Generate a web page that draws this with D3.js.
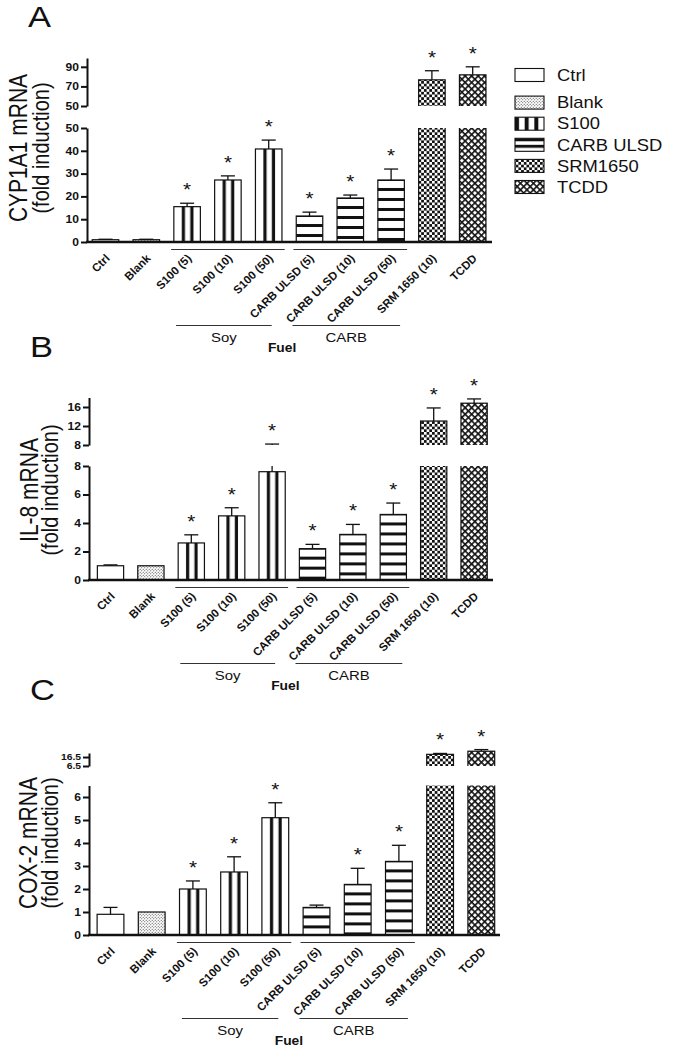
<!DOCTYPE html>
<html><head><meta charset="utf-8">
<script src="https://cdn.jsdelivr.net/npm/d3@7"></script>
<style>body{margin:0;background:#fff} svg{display:block} text{font-family:"Liberation Sans",Arial,Helvetica,sans-serif}</style>
</head><body><svg id="c" width="677" height="1050"></svg>
<script>
// ---------------- data ----------------
const categories = ["Ctrl","Blank","S100 (5)","S100 (10)","S100 (50)","CARB ULSD (5)","CARB ULSD (10)","CARB ULSD (50)","SRM 1650 (10)","TCDD"];
const fillKinds  = ["ctrl","blank","s100","s100","s100","carb","carb","carb","srm","tcdd"];

const cyp1a1Values = [1.0, 1.0, 15.5, 27.2, 40.8, 11.4, 19.3, 27.2, 76.7, 81.8];
const cyp1a1Errors = [0.2, 0.2, 1.5, 1.8, 3.9, 1.7, 1.3, 4.8, 9.3, 8.2];
const cyp1a1Stars  = [0, 0, 1, 1, 1, 1, 1, 1, 1, 1];
const cyp1a1LowerTicks = [0, 10, 20, 30, 40, 50];
const cyp1a1UpperTicks = [50, 70, 90];

const il8Values = [1.0, 1.0, 2.6, 4.5, 7.6, 2.2, 3.2, 4.6, 13.05, 16.8];
const il8Errors = [0.06, 0.0, 0.57, 0.57, 0.6, 0.3, 0.7, 0.8, 2.75, 0.9];
const il8Stars  = [0, 0, 1, 1, 1, 1, 1, 1, 1, 1];
const il8LowerTicks = [0, 2, 4, 6, 8];
const il8UpperTicks = [8, 12, 16];

const cox2Values = [0.9, 1.0, 2.0, 2.74, 5.1, 1.2, 2.2, 3.2, 19.5, 23.0];
const cox2Errors = [0.3, 0.0, 0.35, 0.66, 0.65, 0.1, 0.7, 0.7, 1.0, 1.8];
const cox2Stars  = [0, 0, 1, 1, 1, 0, 1, 1, 1, 1];
const cox2LowerTicks = [0, 1, 2, 3, 4, 5, 6];
const cox2UpperTicks = [6.5, 16.5];

const fuelNames = ["Soy", "CARB"];
const fuelFirst = ["S100 (5)", "CARB ULSD (5)"];
const fuelLast  = ["S100 (50)", "CARB ULSD (50)"];

const legendItems = ["Ctrl","Blank","S100","CARB ULSD","SRM1650","TCDD"];
const legendKinds = ["ctrl","blank","s100","carb","srm","tcdd"];

// ---------------- setup ----------------
const SX = 1.15; // horizontal stretch of the original figure's text
const svg = d3.select("#c");
const defs = svg.append("defs");

(function(){
  let p = defs.append("pattern").attr("id","pat-blank").attr("patternUnits","userSpaceOnUse").attr("width",3).attr("height",3);
  p.append("rect").attr("width",3).attr("height",3).attr("fill","#fff");
  p.append("circle").attr("cx",0.75).attr("cy",0.75).attr("r",0.6).attr("fill","#444");
  p.append("circle").attr("cx",2.25).attr("cy",2.25).attr("r",0.6).attr("fill","#444");
  p = defs.append("pattern").attr("id","pat-srm").attr("patternUnits","userSpaceOnUse").attr("width",5.4).attr("height",5.4);
  p.append("rect").attr("width",5.4).attr("height",5.4).attr("fill","#fff");
  p.append("rect").attr("width",2.7).attr("height",2.7).attr("fill","#111");
  p.append("rect").attr("x",2.7).attr("y",2.7).attr("width",2.7).attr("height",2.7).attr("fill","#111");
  p = defs.append("pattern").attr("id","pat-tcdd").attr("patternUnits","userSpaceOnUse").attr("width",4.6).attr("height",4.6).attr("patternTransform","rotate(45)");
  p.append("rect").attr("width",4.6).attr("height",4.6).attr("fill","#fff");
  p.append("rect").attr("width",4.6).attr("height",1.6).attr("fill","#111");
  p.append("rect").attr("width",1.6).attr("height",4.6).attr("fill","#111");
})();

let patCount = 0;
function s100Pattern(x0, w){
  const id = "pat-s100-" + (patCount++);
  const p = defs.append("pattern").attr("id",id).attr("patternUnits","userSpaceOnUse").attr("x",x0).attr("y",0).attr("width",w).attr("height",10);
  p.append("rect").attr("width",w).attr("height",10).attr("fill","#fff");
  [0.30, 0.62].forEach(f => p.append("rect").attr("x",w*f).attr("width",w*0.12).attr("height",10).attr("fill","#111"));
  return "url(#"+id+")";
}
function carbPattern(top, period, offset, thick){
  const id = "pat-carb-" + (patCount++);
  const p = defs.append("pattern").attr("id",id).attr("patternUnits","userSpaceOnUse").attr("x",0).attr("y",top+offset).attr("width",10).attr("height",period);
  p.append("rect").attr("width",10).attr("height",period).attr("fill","#fff");
  p.append("rect").attr("width",10).attr("height",thick).attr("fill","#111");
  return "url(#"+id+")";
}
function fillFor(kind, x0, top, w){
  if (kind === "ctrl") return "#fff";
  if (kind === "blank") return "url(#pat-blank)";
  if (kind === "s100") return s100Pattern(x0, w);
  if (kind === "carb") return carbPattern(top, 10, 8, 3);
  if (kind === "srm") return "url(#pat-srm)";
  return "url(#pat-tcdd)";
}

function T(parent, x, y, str, o){
  o = o || {};
  return parent.append("text")
    .attr("transform", `translate(${x},${y}) scale(${o.sx||SX},1)` + (o.rot ? ` rotate(${o.rot})` : ""))
    .attr("text-anchor", o.anchor || "start")
    .attr("font-size", o.size || 12)
    .attr("font-weight", o.weight || "normal")
    .attr("fill", "#111")
    .text(str);
}

// ---------------- panels ----------------
function drawPanel(p){
  const g = svg.append("g");
  const step = p.step;
  const r0 = p.c0 - step/2;
  const x = d3.scaleBand().domain(categories).range([r0, r0 + step*categories.length]).paddingInner(0.35).paddingOuter(0.175);
  const yL = d3.scaleLinear().domain(p.lowerDomain).range([p.yBottom, p.lowerTop]);
  const yU = d3.scaleLinear().domain(p.upperDomain).range([p.upperBottom, p.upperTop]);
  const w = x.bandwidth();
  const lowMax = p.lowerDomain[1], upMin = p.upperDomain[0];

  const clipL = "clipL-"+p.id, clipU = "clipU-"+p.id;
  defs.append("clipPath").attr("id",clipL).append("rect").attr("x",0).attr("y",p.lowerTop).attr("width",677).attr("height",p.yBottom - p.lowerTop + 5);
  defs.append("clipPath").attr("id",clipU).append("rect").attr("x",0).attr("y",0).attr("width",677).attr("height",p.upperBottom);

  const gl = g.append("g").attr("clip-path","url(#"+clipL+")");
  const gu = g.append("g").attr("clip-path","url(#"+clipU+")");

  categories.forEach((c, i) => {
    const v = p.values[i], e = p.errors[i];
    const bx = x(c);
    const topL = v <= lowMax ? yL(v) : p.lowerTop - 6;
    gl.append("rect").attr("x",bx).attr("y",topL).attr("width",w).attr("height",p.yBottom - topL)
      .attr("fill", fillFor(fillKinds[i], bx, topL, w)).attr("stroke","#111").attr("stroke-width",1.2);
    if (v > upMin){
      const topU = yU(v);
      gu.append("rect").attr("x",bx).attr("y",topU).attr("width",w).attr("height",p.upperBottom + 6 - topU)
        .attr("fill", fillFor(fillKinds[i], bx, topU, w)).attr("stroke","#111").attr("stroke-width",1.2);
    }
    const cx = bx + w/2, hi = v + e;
    let capY;
    if (e > 0){
      if (v < lowMax){
        g.append("line").attr("x1",cx).attr("x2",cx).attr("y1",yL(v)).attr("y2",yL(Math.min(hi, lowMax))).attr("stroke","#111").attr("stroke-width",1.3);
      }
      if (hi > upMin){
        g.append("line").attr("x1",cx).attr("x2",cx).attr("y1",yU(Math.max(v, upMin))).attr("y2",yU(hi)).attr("stroke","#111").attr("stroke-width",1.3);
      }
      capY = hi > lowMax ? yU(hi) : yL(hi);
      g.append("line").attr("x1",cx - 7).attr("x2",cx + 7).attr("y1",capY).attr("y2",capY).attr("stroke","#111").attr("stroke-width",1.3);
    } else {
      capY = v > lowMax ? yU(v) : yL(v);
    }
    if (p.stars[i]) T(g, cx, capY - 7, "*", {anchor:"middle", size:18});
  });

  function styleAxis(sel, fs){
    sel.attr("font-family","Liberation Sans, Arial, sans-serif").attr("font-size",fs).attr("font-weight","bold");
    sel.select(".domain").attr("stroke","#111").attr("stroke-width",2);
    sel.selectAll(".tick line").attr("stroke","#111").attr("stroke-width",2);
    sel.selectAll(".tick text").attr("fill","#111").attr("x", -8/SX).attr("transform",`scale(${SX},1)`);
  }
  const fmt = d => String(d);
  g.append("g").attr("transform",`translate(${p.axisX},0)`)
    .call(d3.axisLeft(yL).tickValues(p.lowerTicks).tickFormat(fmt).tickSize(6).tickSizeOuter(0).tickPadding(2)).call(s => styleAxis(s, 10.5));
  g.append("g").attr("transform",`translate(${p.axisX},0)`)
    .call(d3.axisLeft(yU).tickValues(p.upperTicks).tickFormat(fmt).tickSize(6).tickSizeOuter(0).tickPadding(2)).call(s => styleAxis(s, p.upperTickSize || 10.5));

  g.append("line").attr("x1",p.axisX - 1).attr("x2",p.xEnd).attr("y1",p.yBottom).attr("y2",p.yBottom).attr("stroke","#111").attr("stroke-width",2.5);

  categories.forEach(c => {
    T(g, x(c) + w/2 + 5, p.yBottom + 17, c, {anchor:"end", size:11.5, weight:"bold", rot:-45, sx:1});
  });

  const ends = [];
  fuelNames.forEach((name, k) => {
    const a = x(fuelFirst[k]) + w/2, b = x(fuelLast[k]) + w/2;
    g.append("line").attr("x1",a - 16).attr("x2",b + 16).attr("y1",p.yBottom + 7.5).attr("y2",p.yBottom + 7.5).attr("stroke","#333").attr("stroke-width",1);
    const a2 = k === 0 ? a - 11 : a - 17, b2 = k === 0 ? b + 3 : b + 9;
    g.append("line").attr("x1",a2).attr("x2",b2).attr("y1",p.yBottom + 83.5).attr("y2",p.yBottom + 83.5).attr("stroke","#333").attr("stroke-width",1);
    T(g, (a2 + b2)/2, p.yBottom + 100, name, {anchor:"middle", size:13});
    ends.push([a2, b2]);
  });
  T(g, (ends[0][1] + ends[1][0])/2, p.yBottom + 110, "Fuel", {anchor:"middle", size:12, weight:"bold"});

  T(g, p.t1x, p.tcy, p.title, {anchor:"middle", size:21, rot:-90, sx:1.2});
  T(g, p.t2x, p.tcy, "(fold induction)", {anchor:"middle", size:20, rot:-90, sx:1.2});

  T(g, p.lx, p.ly, p.id, {size:30});
}

drawPanel({id:"A", values:cyp1a1Values, errors:cyp1a1Errors, stars:cyp1a1Stars, lowerTicks:cyp1a1LowerTicks, upperTicks:cyp1a1UpperTicks,
  lowerDomain:[0,50], upperDomain:[50,99], axisX:87, xEnd:492, yBottom:242, lowerTop:128, upperBottom:106, upperTop:58,
  c0:105.5, step:40.8, title:"CYP1A1 mRNA", t1x:27, t2x:49, tcy:148, lx:28, ly:27});
drawPanel({id:"B", values:il8Values, errors:il8Errors, stars:il8Stars, lowerTicks:il8LowerTicks, upperTicks:il8UpperTicks,
  lowerDomain:[0,8], upperDomain:[8,18], axisX:89, xEnd:493, yBottom:580, lowerTop:466, upperBottom:445, upperTop:397.5,
  c0:110.5, step:40.4, title:"IL-8 mRNA", t1x:38, t2x:58, tcy:490, lx:30, ly:357});
drawPanel({id:"C", values:cox2Values, errors:cox2Errors, stars:cox2Stars, lowerTicks:cox2LowerTicks, upperTicks:cox2UpperTicks,
  lowerDomain:[0,6.5], upperDomain:[6.5,21], axisX:89, xEnd:500, yBottom:935, lowerTop:785.5, upperBottom:766, upperTop:753,
  c0:110.5, step:41.2, title:"COX-2 mRNA", t1x:37, t2x:58, tcy:843, lx:30, ly:700, upperTickSize:9});

// ---------------- legend ----------------
const lg = svg.append("g");
const ly = d3.scalePoint().domain(legendItems).range([81.5, 187]);
legendItems.forEach((name, i) => {
  const cy = i === 0 ? ly(name) - 6.5 : ly(name);
  const bx = 515, bw = 29, bh = 13, by = cy - bh/2;
  let fill;
  if (legendKinds[i] === "s100"){
    const id = "pat-leg-s100";
    const pp = defs.append("pattern").attr("id",id).attr("patternUnits","userSpaceOnUse").attr("x",bx).attr("y",0).attr("width",bw/3).attr("height",10);
    pp.append("rect").attr("width",bw/3).attr("height",10).attr("fill","#fff");
    pp.append("rect").attr("width",4).attr("height",10).attr("fill","#111");
    fill = "url(#"+id+")";
  } else if (legendKinds[i] === "carb"){
    fill = carbPattern(by, 6.5, 0, 3);
  } else {
    fill = fillFor(legendKinds[i], bx, by, bw);
  }
  lg.append("rect").attr("x",bx).attr("y",by).attr("width",bw).attr("height",bh).attr("fill",fill).attr("stroke","#111").attr("stroke-width",1.1);
  T(lg, 557, cy + 5.7, name, {size:16});
});
</script></body></html>
